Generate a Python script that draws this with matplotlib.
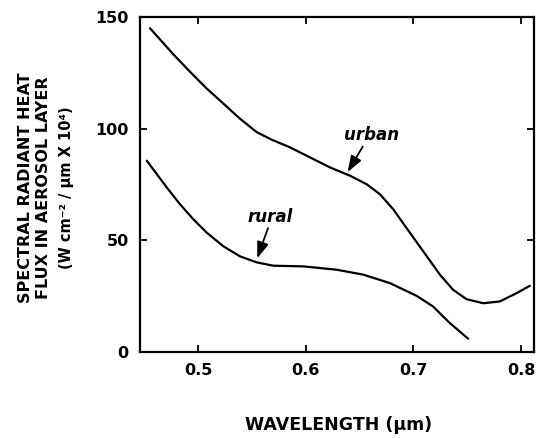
import matplotlib
matplotlib.use("Agg")
import matplotlib.pyplot as plt

urban_x = [0.4554, 0.4647, 0.4771, 0.4926, 0.5081, 0.5235, 0.5390, 0.5545, 0.5685,
           0.5854, 0.6040, 0.6226, 0.6411, 0.6566, 0.6690, 0.6813, 0.6938, 0.7124,
           0.7247, 0.7370, 0.7495, 0.7650, 0.7804, 0.7959, 0.8083]
urban_y = [145.0, 140.0, 133.3, 125.5, 118.0, 111.3, 104.5, 98.5, 95.1,
           91.7, 87.2, 82.7, 79.0, 75.2, 70.7, 64.0, 55.5, 43.0,
           34.7, 27.9, 23.7, 21.9, 22.7, 26.4, 29.7]

rural_x = [0.4524, 0.4617, 0.4710, 0.4833, 0.4956, 0.5081, 0.5235, 0.5390, 0.5545,
           0.5699, 0.5978, 0.6288, 0.6535, 0.6783, 0.7031, 0.7185, 0.7278, 0.7340,
           0.7510]
rural_y = [85.7, 79.7, 73.7, 66.2, 59.5, 53.5, 47.4, 42.9, 40.2,
           38.7, 38.4, 36.9, 34.7, 30.9, 25.2, 20.4, 15.9, 13.0,
           6.0]

x_ticks = [0.5, 0.6, 0.7, 0.8]
x_tick_labels = ["0.5", "0.6", "0.7", "0.8"]
y_ticks = [0, 50, 100, 150]
y_tick_labels = ["0", "50", "100", "150"]

plt.rcParams['font.family'] = ['DejaVu Sans']

fig = plt.figure(figsize=(5.36, 4.38), dpi=100)
ax = fig.add_axes([0.261, 0.196, 0.735, 0.765])

ax.plot(urban_x, urban_y, color='black', lw=1.6, solid_capstyle='round', solid_joinstyle='round')
ax.plot(rural_x, rural_y, color='black', lw=1.6, solid_capstyle='round', solid_joinstyle='round')

ax.set_xlim(0.446, 0.812)
ax.set_ylim(0, 150)
ax.set_xticks(x_ticks)
ax.set_xticklabels(x_tick_labels, fontsize=11.5, fontweight='bold')
ax.set_yticks(y_ticks)
ax.set_yticklabels(y_tick_labels, fontsize=11.5, fontweight='bold')
ax.tick_params(axis='x', direction='in', length=5, width=1.3, top=True, pad=8)
ax.tick_params(axis='y', direction='in', length=5, width=1.3, right=True, pad=8)
for s in ax.spines.values():
    s.set_linewidth(1.6)

arrow = dict(arrowstyle='-|>,head_length=0.7,head_width=0.25', color='black', lw=1.3,
             mutation_scale=14, shrinkA=0, shrinkB=0)
ax.annotate('', xy=(0.639, 80.6), xytext=(0.653, 92), arrowprops=arrow)
ax.text(0.661, 97, 'urban', fontsize=12, fontstyle='italic', fontweight='bold', ha='center', va='center')
ax.annotate('', xy=(0.555, 42), xytext=(0.565, 55.5), arrowprops=arrow)
ax.text(0.567, 60.5, 'rural', fontsize=12, fontstyle='italic', fontweight='bold', ha='center', va='center')

fig.text(339/536, 1 - 425/438, 'WAVELENGTH (μm)', fontsize=12.5, fontweight='bold', ha='center', va='center')

yc = 1 - 188/438
fig.text(26/536, yc, 'SPECTRAL RADIANT HEAT', fontsize=11.5, fontweight='bold', rotation=90, ha='center', va='center')
fig.text(44/536, yc, 'FLUX IN AEROSOL LAYER', fontsize=11.5, fontweight='bold', rotation=90, ha='center', va='center')
fig.text(66/536, yc, '(W cm⁻² / μm X 10⁴)', fontsize=10.5, fontweight='bold', rotation=90, ha='center', va='center')

fig.savefig('out.png', dpi=100)
